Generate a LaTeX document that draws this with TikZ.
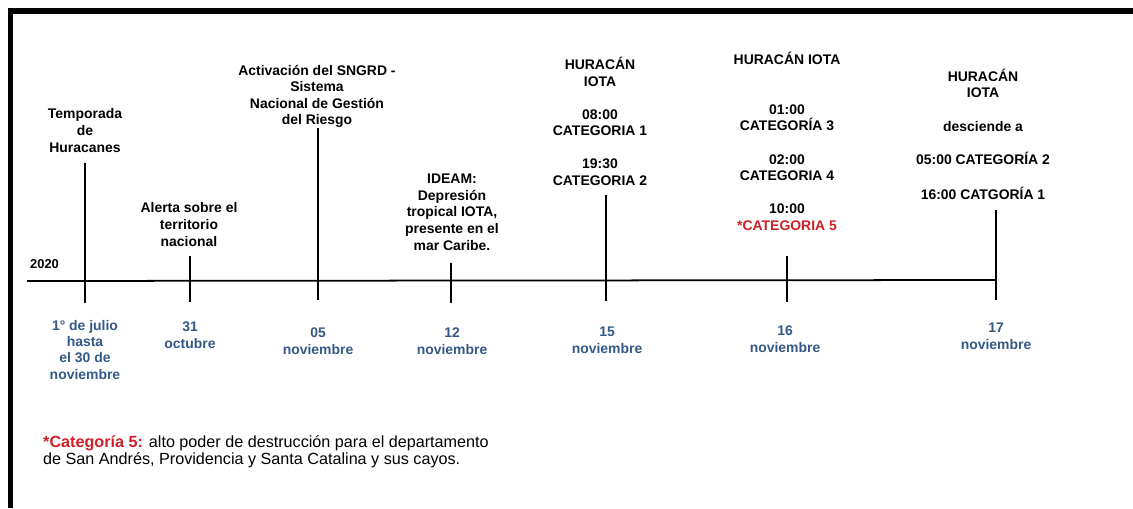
\documentclass[tikz,border=0pt]{standalone}
\usepackage{fontspec}
\setmainfont{Liberation Sans}
\definecolor{fechaazul}{RGB}{52,88,135}
\definecolor{rojocat}{RGB}{205,32,40}

\begin{document}
\begin{tikzpicture}[x=0.03cm,y=-0.03cm,
    evento/.style={font=\fontsize{11.9}{14.1}\selectfont\bfseries,align=center,inner sep=0pt,anchor=base},
    fecha/.style={font=\fontsize{11.9}{13.7}\selectfont\bfseries,text=fechaazul,align=center,inner sep=0pt,anchor=base},
    marca/.style={line width=1.5pt}]
          \useasboundingbox (0,0) rectangle (1133,508);
          % marco
          \draw[line width=4.3pt] (1133,11) -- (10.5,11) -- (10.5,508);
          % eje
          \coordinate (ini) at (27,281);
          \coordinate (fin) at (996,280);
          \draw[marca] (ini) -- (fin);
          \node[font=\fontsize{11}{12}\selectfont\bfseries,inner sep=0pt,anchor=base west] (anio) at (30,268) {2020};
          \foreach \n/\x/\t/\b in {a/85/163/303,b/190/256/302,c/318/128/300,d/451/263/303,e/606/195/301,f/787/256/302,g/996/210/300}
            {
            \coordinate (t\n) at (\x,\t);
            \coordinate (b\n) at (\x,\b);
            \draw[marca] (t\n) -- (b\n);
            }
          % eventos (base = ultima linea)
          \node[evento] (ea) at (85,152) {Temporada\\de\\Huracanes};
          \node[evento] (eb) at (189,246) {Alerta sobre el\\territorio\\nacional};
          \node[evento] (ec) at (317,125) {Activación del SNGRD -\\Sistema\\Nacional de Gestión\\del Riesgo};
          \node[evento] (ed) at (452,250) {IDEAM:\\Depresión\\tropical IOTA,\\presente en el\\mar Caribe.};
          \node[evento] (ee) at (600,185) {HURACÁN\\IOTA\\[14pt]08:00\\CATEGORIA 1\\[14pt]19:30\\CATEGORIA 2};
          \node[evento] (ef) at (787,230) {HURACÁN IOTA\\[28pt]01:00\\CATEGORÍA 3\\[14.5pt]02:00\\CATEGORIA 4\\[14pt]10:00\\\textcolor{rojocat}{*CATEGORIA 5}};
          \node[evento] (eg) at (983,199) {HURACÁN\\IOTA\\[15pt]desciende a\\[14pt]05:00 CATEGORÍA 2\\[15pt]16:00 CATGORÍA 1};
          % fechas
          \node[fecha] (fa) at (85,379) {1° de julio\\hasta\\el 30 de\\noviembre};
          \node[fecha] (fb) at (190,348) {31\\octubre};
          \node[fecha] (fc) at (318,354) {05\\noviembre};
          \node[fecha] (fd) at (452,354) {12\\noviembre};
          \node[fecha] (fe) at (607,353) {15\\noviembre};
          \node[fecha] (ff) at (785,352) {16\\noviembre};
          \node[fecha] (fg) at (996,349) {17\\noviembre};
          % nota
          \node[font=\fontsize{13.8}{14.5}\selectfont,align=left,inner sep=0pt,anchor=base west] (nota) at (43,464)
            {\textcolor{rojocat}{\bfseries *Categoría 5:} alto poder de destrucción para el departamento\\de San Andrés, Providencia y Santa Catalina y sus cayos.};
        \end{tikzpicture}
\end{document}
